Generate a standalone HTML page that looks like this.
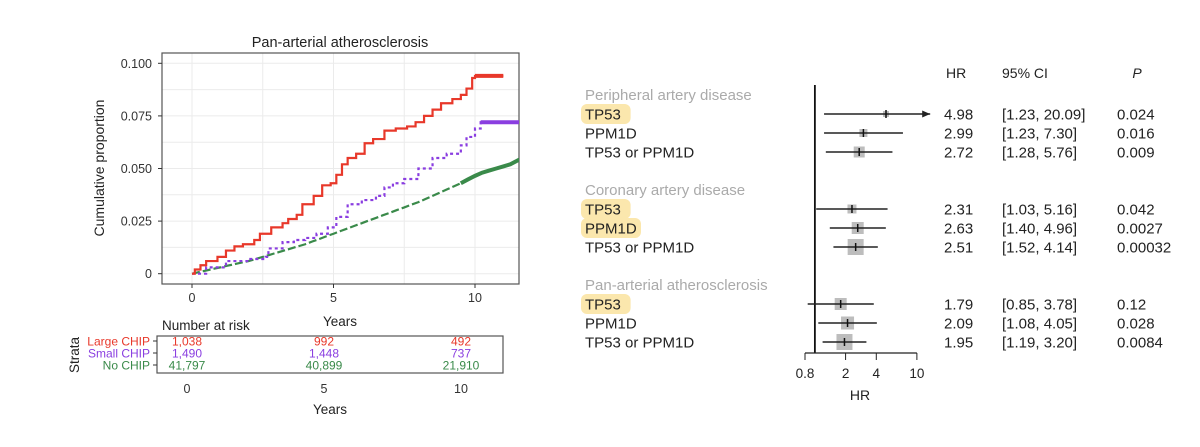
<!DOCTYPE html>
<html><head><meta charset="utf-8"><style>
html,body{margin:0;padding:0;background:#fff;}
svg{display:block;font-family:"Liberation Sans",sans-serif;}
</style></head><body>
<svg id="fig" width="1200" height="447" viewBox="0 0 1200 447">
<g id="km"></g>
<g id="risk"></g>
<g id="forest"></g>
</svg>
<script>
// KM data (years, cumulative proportion)
const redX=[0,0.1,0.3,0.5,0.9,1.2,1.5,1.8,2.2,2.4,2.8,3.2,3.4,3.7,3.9,4.3,4.6,4.9,5.1,5.3,5.5,5.8,6.1,6.4,6.8,7.2,7.6,7.9,8.2,8.5,8.8,9.2,9.5,9.7,9.9,10.0,11.0];
const redY=[0,0.002,0.004,0.006,0.008,0.011,0.013,0.014,0.016,0.019,0.022,0.024,0.026,0.028,0.033,0.037,0.042,0.043,0.047,0.052,0.055,0.057,0.062,0.064,0.068,0.069,0.070,0.072,0.075,0.078,0.081,0.083,0.085,0.088,0.093,0.094,0.094];
const purX=[0,0.5,1.2,2.0,2.6,2.7,3.2,3.6,4.0,4.4,4.8,5.1,5.5,6.0,6.5,6.8,7.1,7.5,8.0,8.5,9.0,9.5,9.7,10.0,10.2,11.6];
const purY=[0,0.003,0.006,0.007,0.008,0.012,0.015,0.016,0.017,0.019,0.022,0.027,0.033,0.035,0.037,0.041,0.043,0.045,0.050,0.055,0.057,0.061,0.065,0.069,0.072,0.072];
const grnX=[0,0.25,0.5,0.75,1,1.25,1.5,1.75,2,2.25,2.5,2.75,3,3.25,3.5,3.75,4,4.25,4.5,4.75,5,5.25,5.5,5.75,6,6.25,6.5,6.75,7,7.25,7.5,7.75,8,8.25,8.5,8.75,9,9.25,9.5,9.75,10,10.25,10.5,10.75,11,11.25,11.6];
const grnY=[0,0.0008,0.0015,0.0023,0.003,0.0038,0.0045,0.0053,0.006,0.007,0.008,0.009,0.010,0.011,0.012,0.013,0.014,0.0153,0.0165,0.0178,0.019,0.0203,0.0215,0.0228,0.024,0.0253,0.0265,0.0278,0.029,0.0303,0.0315,0.0328,0.034,0.0355,0.037,0.0385,0.040,0.0415,0.043,0.0448,0.0465,0.048,0.049,0.050,0.051,0.052,0.0545];
const yTicks=[0,0.025,0.05,0.075,0.1];
const yTickLabels=["0","0.025","0.050","0.075","0.100"];
const xTicks=[0,5,10];
const strata=["Large CHIP","Small CHIP","No CHIP"];
const riskLarge=["1,038","992","492"];
const riskSmall=["1,490","1,448","737"];
const riskNo=["41,797","40,899","21,910"];
// forest data
const groups=["Peripheral artery disease","Coronary artery disease","Pan-arterial atherosclerosis"];
const rowLabels=["TP53","PPM1D","TP53 or PPM1D","TP53","PPM1D","TP53 or PPM1D","TP53","PPM1D","TP53 or PPM1D"];
const highlighted=[true,false,false,true,true,false,true,false,false];
const hr=[4.98,2.99,2.72,2.31,2.63,2.51,1.79,2.09,1.95];
const lo=[1.23,1.23,1.28,1.03,1.40,1.52,0.85,1.08,1.19];
const hi=[20.09,7.30,5.76,5.16,4.96,4.14,3.78,4.05,3.20];
const pvals=["0.024","0.016","0.009","0.042","0.0027","0.00032","0.12","0.028","0.0084"];
const weight=[6,8,11,9,12,16,12,13,16];
const hrTicks=[0.8,2,4,10];

const NS="http://www.w3.org/2000/svg";
function mk(parent,tag,attrs,text){const e=document.createElementNS(NS,tag);for(const k in attrs)e.setAttribute(k,attrs[k]);if(text!==undefined)e.textContent=text;parent.appendChild(e);return e;}
const cols={r:"#e8382a",p:"#8a3ee0",g:"#3a8a4a"};

// ---- KM ----
const km=document.getElementById('km');
const L=162,R=519,T=53,B=284;
const sx=v=>192+v*28.3, sy=v=>273.7-v*2104;
let t=mk(km,'text',{x:340,y:47,'text-anchor':'middle','font-size':14.5,fill:'#222'},'Pan-arterial atherosclerosis');

for(let v=0;v<=0.1;v+=0.0125){const l=mk(km,'line',{x1:L,x2:R,y1:sy(v),y2:sy(v),stroke:'#ebebeb','stroke-width':1});}
for(let v=0;v<=11;v+=2.5){const l=mk(km,'line',{x1:sx(v),x2:sx(v),y1:T,y2:B,stroke:'#ebebeb','stroke-width':1});}
let fr=mk(km,'rect',{x:L,y:T,width:R-L,height:B-T,fill:'none',stroke:'#555','stroke-width':1.2});

yTicks.forEach((v,i)=>{mk(km,'line',{x1:L-4,x2:L,y1:sy(v),y2:sy(v),stroke:'#333'});
 const e=mk(km,'text',{x:L-10,y:sy(v)+4.5,'text-anchor':'end','font-size':12.5,fill:'#333'},yTickLabels[i]);
 });
xTicks.forEach(v=>{mk(km,'line',{x1:sx(v),x2:sx(v),y1:B,y2:B+4,stroke:'#333'});
 const e=mk(km,'text',{x:sx(v),y:302,'text-anchor':'middle','font-size':12.5,fill:'#333'},String(v));
 });
t=mk(km,'text',{x:340,y:326,'text-anchor':'middle','font-size':13.5,fill:'#222'},'Years');
t=mk(km,'text',{x:104,y:168,'text-anchor':'middle','font-size':14,fill:'#222',transform:'rotate(-90 104 168)'},'Cumulative proportion');
t=mk(km,'text',{x:162,y:330,'font-size':13.5,fill:'#222'},'Number at risk');
const cp=mk(km,'clipPath',{id:'kmclip'});mk(cp,'rect',{x:L,y:T,width:R-L,height:B-T});
function step(xs,ys){let d='M'+sx(xs[0])+' '+sy(ys[0]);for(let i=1;i<xs.length;i++){d+=' H'+sx(xs[i])+' V'+sy(ys[i]);}return d;}
function line(xs,ys){return xs.map((x,i)=>(i?'L':'M')+sx(x)+' '+sy(ys[i])).join(' ');}
let p=mk(km,'path',{d:line(grnX,grnY),fill:'none',stroke:cols.g,'stroke-width':2.2,'stroke-dasharray':'8 3','clip-path':'url(#kmclip)'});
p=mk(km,'path',{d:line(grnX.filter(x=>x>=9.5),grnY.slice(grnX.findIndex(x=>x>=9.5))),fill:'none',stroke:cols.g,'stroke-width':4,'clip-path':'url(#kmclip)'});
p=mk(km,'path',{d:step(purX,purY),fill:'none',stroke:cols.p,'stroke-width':2.2,'stroke-dasharray':'3 3','clip-path':'url(#kmclip)'});
p=mk(km,'path',{d:step(redX,redY),fill:'none',stroke:cols.r,'stroke-width':2.2,'clip-path':'url(#kmclip)'});
function plateau(xs,ys,c,name){const n=xs.length;const e=mk(km,'line',{x1:sx(xs[n-2]),x2:sx(xs[n-1]),y1:sy(ys[n-1]),y2:sy(ys[n-1]),stroke:c,'stroke-width':4,'clip-path':'url(#kmclip)'});}
plateau(redX,redY,cols.r,'censor-large-chip');plateau(purX,purY,cols.p,'censor-small-chip');

// ---- risk table ----
const rk=document.getElementById('risk');
const rsx=v=>187+v*27.4;
const rowsY=[346,358,370];
let rb=mk(rk,'rect',{x:157,y:336,width:346,height:37,fill:'none',stroke:'#555','stroke-width':1.2});
const riskSets=[riskLarge,riskSmall,riskNo],rc=[cols.r,cols.p,cols.g];
strata.forEach((s,i)=>{
 const e=mk(rk,'text',{x:150,y:rowsY[i]-0.5,'text-anchor':'end','font-size':12,fill:rc[i]},s);
 mk(rk,'line',{x1:153,x2:157,y1:rowsY[i]-5,y2:rowsY[i]-5,stroke:'#333'});
 riskSets[i].forEach((v,j)=>{const c=mk(rk,'text',{x:rsx(xTicks[j]),y:rowsY[i]-0.5,'text-anchor':'middle','font-size':12,fill:rc[i]},v);});
});
xTicks.forEach(v=>{const e=mk(rk,'text',{x:rsx(v),y:393,'text-anchor':'middle','font-size':12.5,fill:'#333'},String(v));});
t=mk(rk,'text',{x:330,y:414,'text-anchor':'middle','font-size':13.5,fill:'#222'},'Years');
t=mk(rk,'text',{x:79,y:355,'text-anchor':'middle','font-size':13.5,fill:'#222',transform:'rotate(-90 79 355)'},'Strata');

// ---- forest ----
const fo=document.getElementById('forest');
const fx=v=>805+(Math.log10(v)-Math.log10(0.8))*102;
const groupY=[95,190,285];
const rowY=[114,133,152,209,228,247,304,323,342];
const hdr=[["HR",946,'normal'],["95% CI",1002,'normal'],["P",1137,'italic']];
hdr.forEach(h=>{const e=mk(fo,'text',{x:h[1],y:78,'font-size':14,fill:'#222','font-style':h[2],'text-anchor':h[0]==='P'?'middle':'start'},h[0]);});
groups.forEach((g,i)=>{const e=mk(fo,'text',{x:585,y:groupY[i]+5,'font-size':15,fill:'#aaa'},g);});
rowLabels.forEach((lab,i)=>{
 if(highlighted[i]){const w=lab.length*10.4+8;const h=mk(fo,'rect',{x:581,y:rowY[i]-10,width:w,height:20,rx:6,fill:'#fbe7ad'});}
 const e=mk(fo,'text',{x:585,y:rowY[i]+5.5,'font-size':15,fill:'#222'},lab);
});
let ax=mk(fo,'line',{x1:fx(1),x2:fx(1),y1:85,y2:353,stroke:'#111','stroke-width':1.8});
hr.forEach((v,i)=>{
 const y=rowY[i];const w=weight[i];
 const b=mk(fo,'rect',{x:fx(v)-w/2,y:y-w/2,width:w,height:w,fill:'#bdbdbd'});
 const x2=Math.min(fx(hi[i]),fx(13.5));
 const l=mk(fo,'line',{x1:fx(lo[i]),x2:x2,y1:y,y2:y,stroke:'#222','stroke-width':1.4});
 if(fx(hi[i])>x2){mk(fo,'path',{d:`M${x2} ${y} l-8 -3.5 v7 z`,fill:'#222'});}
 mk(fo,'line',{x1:fx(v),x2:fx(v),y1:y-4,y2:y+4,stroke:'#111','stroke-width':1.5});
 const a=mk(fo,'text',{x:944,y:y+5.5,'font-size':15,fill:'#222'},v.toFixed(2));
 const c=mk(fo,'text',{x:1002,y:y+5.5,'font-size':15,fill:'#222'},`[${lo[i].toFixed(2)}, ${hi[i].toFixed(2)}]`);
 const pv=mk(fo,'text',{x:1117,y:y+5.5,'font-size':15,fill:'#222'},pvals[i]);
});
let xa=mk(fo,'line',{x1:fx(0.8),x2:fx(10),y1:353,y2:353,stroke:'#222','stroke-width':1.2});
hrTicks.forEach(v=>{mk(fo,'line',{x1:fx(v),x2:fx(v),y1:353,y2:360,stroke:'#222'});
 const e=mk(fo,'text',{x:fx(v),y:378,'text-anchor':'middle','font-size':13.5,fill:'#222'},String(v));});
t=mk(fo,'text',{x:860,y:400,'text-anchor':'middle','font-size':14,fill:'#222'},'HR');
</script>
</body></html>
